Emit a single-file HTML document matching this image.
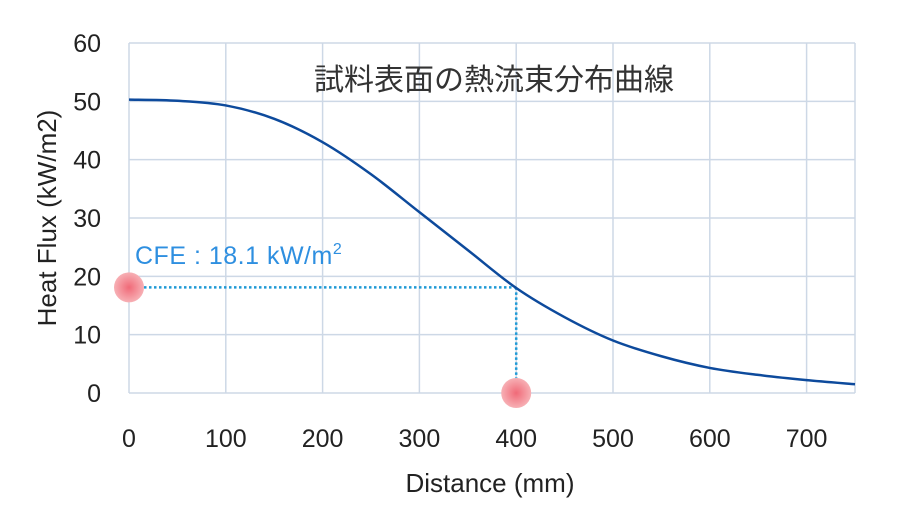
<!DOCTYPE html>
<html><head><meta charset="utf-8"><style>
html,body{margin:0;padding:0;background:#fff;}
svg{display:block;font-family:"Liberation Sans","Noto Sans CJK JP",sans-serif;}
</style></head><body>
<svg id="chart" width="900" height="520">
<g id="grid"></g>
<g id="xt"></g>
<g id="yt"></g>
<text x="494" y="90" font-size="30" fill="#333" text-anchor="middle">試料表面の熱流束分布曲線</text>
<text x="490" y="492" font-size="26" fill="#222" text-anchor="middle">Distance (mm)</text>
<text transform="translate(56,218) rotate(-90)" font-size="26" fill="#222" text-anchor="middle">Heat Flux (kW/m2)</text>
<g id="ann"></g>
<path id="curve" fill="none" stroke="#0d4a9c" stroke-width="2.5"/>
<text x="135" y="264" font-size="25" letter-spacing="0.5" fill="#2e8fe0">CFE : 18.1 kW/m<tspan font-size="16" dy="-10">2</tspan></text>
</svg>
<script>
const xVals=[0,50,100,150,200,250,300,350,400,450,500,550,600,650,700,750];
const yVals=[50.3,50.1,49.3,47,43,37.5,31,24.5,18,13,9,6.3,4.3,3.1,2.2,1.5];
const xTicks=[0,100,200,300,400,500,600,700];
const yTicks=[0,10,20,30,40,50,60];
const cfeX=400, cfeY=18.1;
const X0=129,X1=855,Y0=393,Y1=43;
const sx=v=>X0+(v/750)*(X1-X0);
const sy=v=>Y0-(v/60)*(Y0-Y1);
const NS="http://www.w3.org/2000/svg";
function mk(p,t,a){const e=document.createElementNS(NS,t);for(const k in a)e.setAttribute(k,a[k]);p.appendChild(e);return e;}
const grid=document.getElementById('grid'),xt=document.getElementById('xt'),yt=document.getElementById('yt');
for(const v of xTicks.concat([750])){const l=mk(grid,'line',{x1:sx(v),x2:sx(v),y1:Y1,y2:Y0,stroke:'#cdd8e6','stroke-width':1.5});

}
for(const v of yTicks){const l=mk(grid,'line',{x1:X0,x2:X1,y1:sy(v),y2:sy(v),stroke:'#cdd8e6','stroke-width':1.5});

}
for(const v of xTicks){const t=mk(xt,'text',{x:sx(v),y:447,'font-size':25,fill:'#222','text-anchor':'middle'});t.textContent=v;

}
for(const v of yTicks){const t=mk(yt,'text',{x:101,y:sy(v)+9,'font-size':25,fill:'#222','text-anchor':'end'});t.textContent=v;

}
const P=xVals.map((x,i)=>[sx(x),sy(yVals[i])]);
let d=`M${P[0][0]},${P[0][1]}`;
for(let i=0;i<P.length-1;i++){const p0=P[Math.max(0,i-1)],p1=P[i],p2=P[i+1],p3=P[Math.min(P.length-1,i+2)];
d+=` C${p1[0]+(p2[0]-p0[0])/6},${p1[1]+(p2[1]-p0[1])/6} ${p2[0]-(p3[0]-p1[0])/6},${p2[1]-(p3[1]-p1[1])/6} ${p2[0]},${p2[1]}`;}
document.getElementById('curve').setAttribute('d',d);
const ann=document.getElementById('ann');
const defs=mk(document.getElementById('chart'),'defs',{});
const rg=mk(defs,'radialGradient',{id:'dot'});
mk(rg,'stop',{offset:'0','stop-color':'#f06a78'});
mk(rg,'stop',{offset:'1','stop-color':'#f7b0b5'});
const h=mk(ann,'line',{x1:sx(0)+10,x2:sx(cfeX),y1:sy(cfeY),y2:sy(cfeY),stroke:'#1f9ad6','stroke-width':2.5,'stroke-dasharray':'2.5 2.5'});


const v=mk(ann,'line',{x1:sx(cfeX),x2:sx(cfeX),y1:sy(cfeY),y2:sy(0)-10,stroke:'#1f9ad6','stroke-width':2.5,'stroke-dasharray':'2.5 2.5'});


const c1=mk(ann,'circle',{cx:sx(0),cy:sy(cfeY),r:15,fill:'url(#dot)'});


const c2=mk(ann,'circle',{cx:sx(cfeX),cy:sy(0),r:15,fill:'url(#dot)'});


</script>
</body></html>
